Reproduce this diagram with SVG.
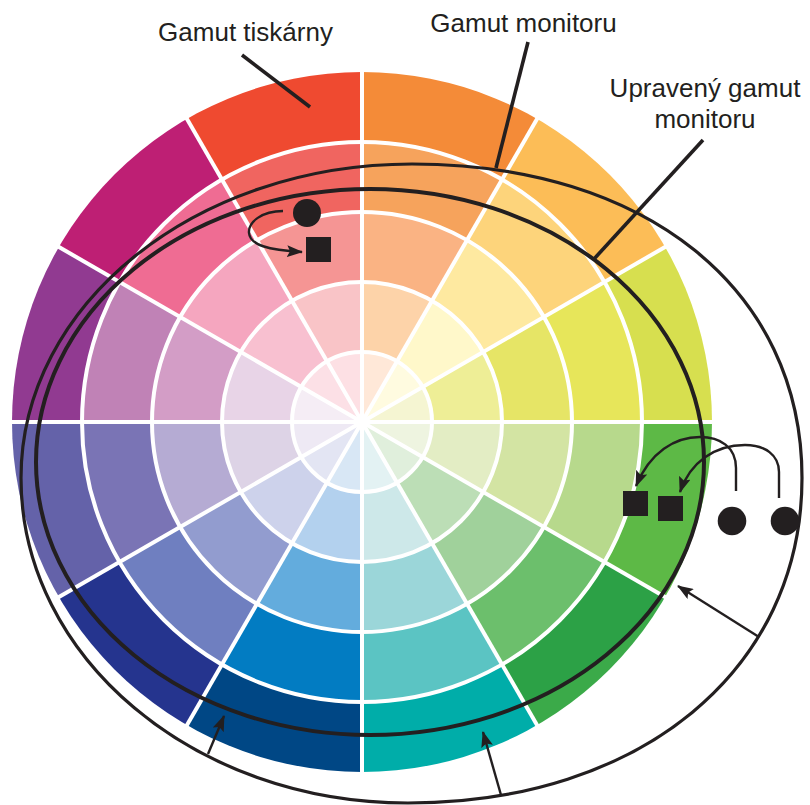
<svg xmlns="http://www.w3.org/2000/svg" width="810" height="805" viewBox="0 0 810 805">
  <defs>
    <style>
      .sep { fill: none; stroke: #ffffff; stroke-width: 4; }
      .gamut { fill: none; stroke: #231F20; }
      .lead { fill: none; stroke: #231F20; stroke-width: 3.6; }
      .arr { fill: none; stroke: #231F20; stroke-width: 2.4; marker-end: url(#ah); }
      .ink { fill: #231F20; }
      .lbl { font-family: "Liberation Sans", Arial, sans-serif; font-size: 26px; fill: #231F20; text-anchor: middle; }
    </style>
    <marker id="ah" markerUnits="userSpaceOnUse" viewBox="0 0 16 12" markerWidth="16" markerHeight="12" refX="15" refY="6" orient="auto">
      <path d="M0,0 L16,6 L0,12 L3,6 Z" fill="#231F20"/>
    </marker>
    <!-- 30-degree wedges, coordinates relative to the wheel centre -->
    <clipPath id="s0"><polygon points="0,0 0,-420 210,-363.7"/></clipPath>
    <clipPath id="s1"><polygon points="0,0 210,-363.7 363.7,-210"/></clipPath>
    <clipPath id="s2"><polygon points="0,0 363.7,-210 420,0"/></clipPath>
    <clipPath id="s3"><polygon points="0,0 420,0 363.7,210"/></clipPath>
    <clipPath id="s4"><polygon points="0,0 363.7,210 210,363.7"/></clipPath>
    <clipPath id="s5"><polygon points="0,0 210,363.7 0,420"/></clipPath>
    <clipPath id="s6"><polygon points="0,0 0,420 -210,363.7"/></clipPath>
    <clipPath id="s7"><polygon points="0,0 -210,363.7 -363.7,210"/></clipPath>
    <clipPath id="s8"><polygon points="0,0 -363.7,210 -420,0"/></clipPath>
    <clipPath id="s9"><polygon points="0,0 -420,0 -363.7,-210"/></clipPath>
    <clipPath id="s10"><polygon points="0,0 -363.7,-210 -210,-363.7"/></clipPath>
    <clipPath id="s11"><polygon points="0,0 -210,-363.7 0,-420"/></clipPath>
  </defs>

  <rect width="810" height="805" fill="#ffffff"/>

  <!-- colour wheel: 12 hues x 5 rings -->
  <g id="wheel" transform="translate(362,422)">
    <g clip-path="url(#s0)">
      <circle r="350" fill="#F48B38"/><circle r="280" fill="#F6A35C"/><circle r="210" fill="#FAB383"/><circle r="140" fill="#FDD3A9"/><circle r="70" fill="#FFE8D8"/>
    </g>
    <g clip-path="url(#s1)">
      <circle r="350" fill="#FCBD57"/><circle r="280" fill="#FDD47B"/><circle r="210" fill="#FEE9A0"/><circle r="140" fill="#FFF8CA"/><circle r="70" fill="#FFFBE0"/>
    </g>
    <g clip-path="url(#s2)">
      <circle r="350" fill="#D7DF4F"/><circle r="280" fill="#E7E65A"/><circle r="210" fill="#E6E566"/><circle r="140" fill="#EEEE96"/><circle r="70" fill="#F5F5D2"/>
    </g>
    <g clip-path="url(#s3)">
      <circle r="350" fill="#5DB946"/><circle r="280" fill="#B7D98C"/><circle r="210" fill="#D3E4A3"/><circle r="140" fill="#E3EDC4"/><circle r="70" fill="#EEF4E0"/>
    </g>
    <g clip-path="url(#s4)">
      <circle r="350" fill="#3BAA49"/><ellipse cx="8" cy="40" rx="334" ry="273" fill="#2CA146"/>
      <circle r="280" fill="#6CBF6C"/><circle r="210" fill="#A0D19B"/><circle r="140" fill="#BCDEB6"/><circle r="70" fill="#E0EFDC"/>
    </g>
    <g clip-path="url(#s5)">
      <circle r="350" fill="#00ADA9"/><circle r="280" fill="#5BC4C3"/><circle r="210" fill="#9BD6D9"/><circle r="140" fill="#CDE8E9"/><circle r="70" fill="#E3F2F3"/>
    </g>
    <g clip-path="url(#s6)">
      <circle r="350" fill="#004785"/><circle r="280" fill="#027CC2"/><circle r="210" fill="#63ACDD"/><circle r="140" fill="#B3D1EE"/><circle r="70" fill="#D8E7F5"/>
    </g>
    <g clip-path="url(#s7)">
      <circle r="350" fill="#25348E"/><circle r="280" fill="#6F7FC0"/><circle r="210" fill="#929CCF"/><circle r="140" fill="#CDD2EB"/><circle r="70" fill="#E3E5F3"/>
    </g>
    <g clip-path="url(#s8)">
      <circle r="350" fill="#6462A9"/><circle r="280" fill="#7A74B5"/><circle r="210" fill="#B5ABD3"/><circle r="140" fill="#DDD3E6"/><circle r="70" fill="#EEE9F4"/>
    </g>
    <g clip-path="url(#s9)">
      <circle r="350" fill="#913A91"/><circle r="280" fill="#C082B6"/><circle r="210" fill="#D39DC6"/><circle r="140" fill="#E8D4E7"/><circle r="70" fill="#F5EDF5"/>
    </g>
    <g clip-path="url(#s10)">
      <circle r="350" fill="#BE1F74"/><circle r="280" fill="#EF6C93"/><circle r="210" fill="#F5A6BF"/><circle r="140" fill="#F8C0D0"/><circle r="70" fill="#FCE0E6"/>
    </g>
    <g clip-path="url(#s11)">
      <circle r="350" fill="#EF4A30"/><circle r="280" fill="#F06560"/><circle r="210" fill="#F59594"/><circle r="140" fill="#F9C4C7"/><circle r="70" fill="#FDE0E4"/>
    </g>
    <!-- white ring and spoke separators -->
    <circle class="sep" r="70"/><circle class="sep" r="140"/><circle class="sep" r="210"/><circle class="sep" r="280"/>
    <line class="sep" x1="0" y1="-352" x2="0" y2="352"/>
    <line class="sep" x1="176" y1="-304.8" x2="-176" y2="304.8"/>
    <line class="sep" x1="304.8" y1="-176" x2="-304.8" y2="176"/>
    <line class="sep" x1="352" y1="0" x2="-352" y2="0"/>
    <line class="sep" x1="304.8" y1="176" x2="-304.8" y2="-176"/>
    <line class="sep" x1="176" y1="304.8" x2="-176" y2="-304.8"/>
  </g>

  <!-- monitor gamut outline -->
  <g id="gamut-monitor">
    <path class="gamut" stroke-width="3.2" d="M412,164 C646,164 802,289.6 802,478 C802,669.8 640.5,803 408,803 C194,803 21,657.5 21,478 C21,304.6 195,164 412,164 Z"/>
  </g>

  <!-- adjusted monitor gamut outline -->
  <g id="gamut-adjusted">
    <ellipse class="gamut" stroke-width="4" cx="370" cy="462" rx="334" ry="273"/>
  </g>

  <!-- colour samples -->
  <g id="sample-top">
    <circle class="ink" cx="307" cy="213" r="14"/>
    <rect class="ink" x="306" y="237" width="25" height="25"/>
  </g>
  <g id="sample-right">
    <rect class="ink" x="623" y="491" width="25" height="25"/>
    <rect class="ink" x="658" y="496" width="25" height="25"/>
    <circle class="ink" cx="732" cy="521" r="14.3"/>
    <circle class="ink" cx="785" cy="521" r="14.3"/>
  </g>

  <!-- labels -->
  <g id="label-printer"><text class="lbl" x="245.5" y="41">Gamut tiskárny</text></g>
  <g id="label-monitor"><text class="lbl" x="523.5" y="32">Gamut monitoru</text></g>
  <g id="label-adjusted">
    <text class="lbl" x="705" y="97">Upravený gamut</text>
    <text class="lbl" x="705" y="128">monitoru</text>
  </g>

  <!-- leader lines and mapping arrows -->
  <g id="connectors">
    <line class="lead" x1="242" y1="55" x2="310" y2="107"/>
    <line class="lead" x1="528" y1="42" x2="496" y2="168"/>
    <line class="lead" x1="703" y1="140" x2="594" y2="259"/>
    <path class="arr" d="M283,211 C262,211 248,222 249,233 C250,245 268,250 302,252"/>
    <path class="arr" d="M736,491 L736,468 C736,447 720,437 700,437 C675,437 650,452 636,486"/>
    <path class="arr" d="M779,498 L779,472 C779,455 765,445 745,445 C715,445 690,462 680,492"/>
    <path class="arr" d="M759,637 L678,586"/>
    <path class="arr" d="M208,754 L224,716"/>
    <path class="arr" d="M501,795 L483,732"/>
  </g>
</svg>
